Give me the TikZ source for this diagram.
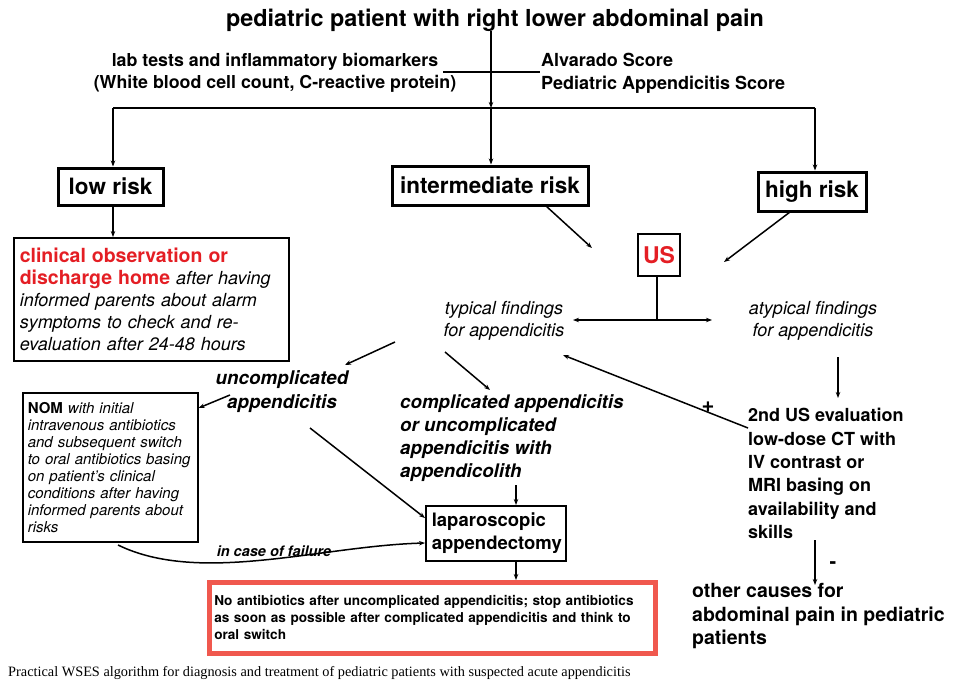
\documentclass[tikz,border=0pt]{standalone}
\usepackage{fontspec}
\setmainfont{TeX Gyre Heros}
\newfontfamily\capfont{Liberation Serif}
\usetikzlibrary{arrows.meta}
\definecolor{usred}{RGB}{228,30,36}
\definecolor{boxred}{RGB}{240,88,78}
\newcommand{\fsz}[2]{\fontsize{#1}{#2}\selectfont}
\begin{document}
\begin{tikzpicture}[x=1pt,y=-1pt,
  arr/.style={-{Stealth[length=6pt,width=4.5pt]}, line width=1.5pt},
  ln/.style={line width=1.5pt},
  riskbox/.style={draw, line width=3pt, inner sep=0pt, font=\bfseries\fsz{22.5}{26}},
  thinbox/.style={draw, line width=1.6pt, align=left},
  lbl/.style={inner sep=0pt, align=center},
  lbll/.style={inner sep=0pt, align=left, anchor=west},
]
\useasboundingbox[fill=white] (0,0) rectangle (953,685);

% header
\node[lbl, font=\bfseries\fsz{23.4}{26}] (title) at (495,20) {pediatric patient with right lower abdominal pain};
\node[lbl, font=\bfseries\fsz{17.8}{22.5}] (lab) at (275,73) {lab tests and inflammatory biomarkers\\(White blood cell count, C-reactive protein)};
\node[lbll, font=\bfseries\fsz{18}{23}] (scores) at (541,73.5) {Alvarado Score\\Pediatric Appendicitis Score};

\coordinate (crossL) at (443,72);
\coordinate (crossR) at (540,72);
\coordinate (barmid) at (491,108);
\coordinate (barL) at (113,108);
\coordinate (barR) at (815,108);
\draw[ln] (crossL) -- (crossR);
\draw[arr] (title.south -| barmid) -- (barmid);
\draw[ln] (barL) -- (barR);

% risk boxes
\node[riskbox, minimum width=105, minimum height=37] (low) at (110.5,186.5) {low risk};
\node[riskbox, minimum width=196, minimum height=39] (inter) at (490,185.5) {intermediate risk};
\node[riskbox, minimum width=108, minimum height=39] (high) at (812,191.5) {high risk};
\draw[arr] (barL) -- (barL |- low.north);
\draw[arr] (barmid) -- (barmid |- inter.north);
\draw[arr] (barR) -- (barR |- high.north);

% clinical observation
\node[thinbox, anchor=north west, inner sep=6pt, text width=263, minimum height=123, font=\fsz{18}{22}] (clin) at (13,237)
 {{\color{usred}\bfseries\fsz{19.5}{22}clinical observation or\\discharge home} \textit{after having}\\\textit{informed parents about alarm}\\\textit{symptoms to check and re-}\\\textit{evaluation after 24-48 hours}};
\draw[arr] (barL |- low.south) -- (barL |- clin.north);

% US
\node[draw, line width=1.6pt, minimum width=42, minimum height=42, inner sep=0pt, text=usred, font=\bfseries\fsz{23}{26}] (us) at (659,255) {US};
\coordinate (interEnd) at (592,248);
\coordinate (highEnd) at (724,262);
\draw[arr] (546,206) coordinate (interStart) -- (interEnd);
\draw[arr] (790,212) coordinate (highStart) -- (highEnd);

\node[lbl, font=\itshape\fsz{18}{22}] (typical) at (504,321) {typical findings\\for appendicitis};
\node[lbl, font=\itshape\fsz{18}{22}] (atypical) at (813,321) {atypical findings\\for appendicitis};
\coordinate (usJ) at (657,320);
\coordinate (usL) at (573,320);
\coordinate (usR) at (712,320);
\draw[ln] (us.south -| usJ) -- (usJ);
\draw[arr, {Stealth[length=6pt,width=4.5pt]}-{Stealth[length=6pt,width=4.5pt]}] (usL) -- (usR);

% left branch
\node[lbl, font=\bfseries\itshape\fsz{18.8}{24}] (uncomp) at (282,392) {uncomplicated\\appendicitis};
\node[lbll, font=\bfseries\itshape\fsz{18.7}{23}] (comp) at (400,438.5) {complicated appendicitis\\or uncomplicated\\appendicitis with\\appendicolith};
\coordinate (t2uS) at (395,342);
\coordinate (t2uE) at (345,365);
\coordinate (t2cS) at (445,352);
\coordinate (t2cE) at (490,390);
\draw[arr] (t2uS) -- (t2uE);
\draw[arr] (t2cS) -- (t2cE);

\node[thinbox, anchor=north west, inner sep=5pt, text width=165, minimum height=149, font=\itshape\fsz{15}{17}] (nom) at (22,392)
 {{\upshape\bfseries NOM} with initial\\intravenous antibiotics\\and subsequent switch\\to oral antibiotics basing\\on patient's clinical\\conditions after having\\informed parents about\\risks};
\coordinate (u2nS) at (230,395);
\draw[arr] (u2nS) -- (nom.east |- 0,408);

\node[thinbox, anchor=north west, inner sep=6pt, text width=128, minimum height=55, font=\bfseries\fsz{18.5}{23}] (lap) at (425,505) {laparoscopic\\appendectomy};
\coordinate (u2lS) at (310,428);
\draw[arr] (u2lS) -- (lap.west |- 0,518);
\coordinate (compX) at (516,485);
\draw[arr] (compX) -- (compX |- lap.north);

\node[inner sep=0pt, font=\bfseries\itshape\fsz{14.5}{16}] (fail) at (274,551) {in case of failure};
\coordinate (nomOut) at (118,545);
\draw[arr] (nomOut) .. controls (200,585) and (320,546) .. (lap.west |- 0,543);

\node[draw=boxred, line width=4.5pt, anchor=north west, inner sep=5pt, text width=436, minimum height=71, align=left, font=\bfseries\fsz{13.6}{17}] (anti) at (207,580)
 {No antibiotics after uncomplicated appendicitis; stop antibiotics\\as soon as possible after complicated appendicitis and think to\\oral switch};
\draw[arr] (compX |- lap.south) -- (compX |- anti.north);

% right branch
\node[lbll, font=\bfseries\fsz{18}{23.4}] (second) at (748,473.5) {2nd US evaluation\\low-dose CT with\\IV contrast or\\MRI basing on\\availability and\\skills};
\coordinate (atypX) at (838,357);
\draw[arr] (atypX) -- (838,398) coordinate (atypE);
\coordinate (secS) at (748,428);
\coordinate (secE) at (563,355);
\draw[arr] (secS) -- (secE);
\node[inner sep=0pt, font=\bfseries\fsz{22}{24}] (plus) at (708,407) {+};

\node[lbll, font=\bfseries\fsz{19.5}{23.5}] (other) at (692,616.5) {other causes for\\abdominal pain in pediatric\\patients};
\coordinate (secB) at (815,540);
\draw[arr] (secB) -- (815,585) coordinate (otherT);
\node[inner sep=0pt, font=\bfseries\fsz{20}{22}] (minus) at (833,565) {-};

% caption
\node[anchor=west, inner sep=0pt, font=\capfont\fsz{14.3}{16}] (caption) at (8,673) {Practical WSES algorithm for diagnosis and treatment of pediatric patients with suspected acute appendicitis};
\end{tikzpicture}
\end{document}
